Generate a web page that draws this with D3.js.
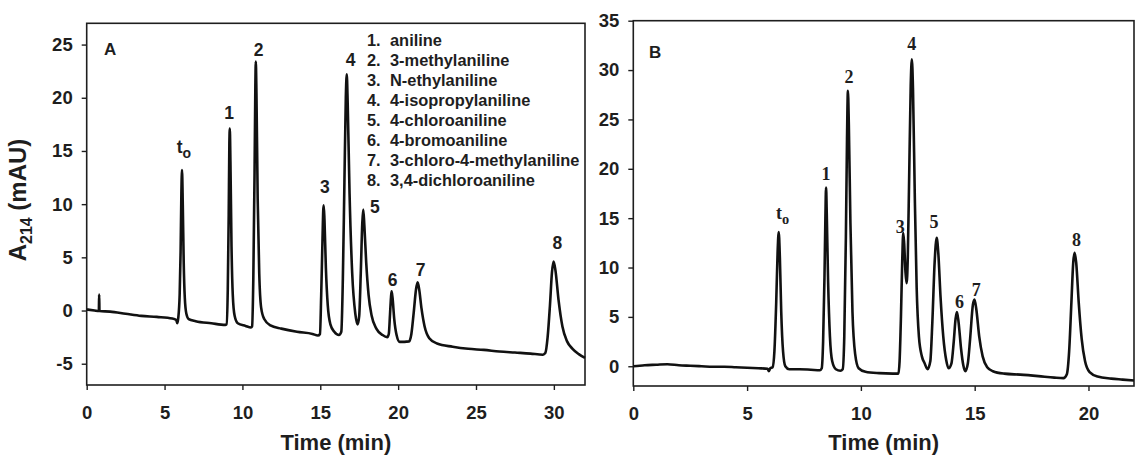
<!DOCTYPE html>
<html>
<head>
<meta charset="utf-8">
<script src="https://cdn.jsdelivr.net/npm/d3@7"></script>
<style>
  html, body { margin: 0; padding: 0; background: #ffffff; }
  svg { display: block; }
  .tick text { font-family: "Liberation Sans", Arial, sans-serif; font-weight: bold; font-size: 18.5px; fill: #1e1e1e; }
  .tick line { stroke: #1e1e1e; stroke-width: 1.4; }
  .domain { display: none; }
</style>
</head>
<body>
<svg id="chart" width="1135" height="464"></svg>
<script>
// Electropherogram A: time (min) and absorbance at 214 nm (mAU)
const traceA_time = [
  0, 0.5, 0.78, 0.8, 0.82, 1.5, 2.5, 3.5, 4.5, 5.5, 5.75, 5.82,
  5.88, 5.97, 6.03, 6.08, 6.12, 6.17, 6.23, 6.3, 6.4, 6.55, 7.0, 8.0, 8.9,
  8.98, 9.06, 9.12, 9.16, 9.19, 9.23, 9.3, 9.38, 9.5, 9.7, 10.2, 10.55,
  10.62, 10.7, 10.78, 10.83, 10.86, 10.9, 10.98, 11.08, 11.2, 11.4, 11.8, 12.5, 13.5, 14.5, 14.85,
  14.98, 15.06, 15.14, 15.19, 15.22, 15.27, 15.36, 15.48, 15.65, 15.9, 16.2,
  16.35, 16.45, 16.55, 16.64, 16.7, 16.76, 16.88, 17.05, 17.25, 17.4,
  17.5, 17.6, 17.7, 17.76, 17.83, 17.95, 18.1, 18.3, 18.6, 19.0, 19.3,
  19.4, 19.48, 19.54, 19.58, 19.64, 19.75, 19.9, 20.1,
  20.7, 20.85, 21.0, 21.15, 21.25, 21.35, 21.5, 21.7, 22.0, 22.5, 23.5, 24.5, 25.5, 26.5, 27.5, 28.5, 29.3,
  29.45, 29.6, 29.75, 29.88, 29.98, 30.1, 30.3, 30.55, 30.85, 31.2, 31.6, 32.0
];
const traceA_mAU = [
  0.1, 0.0, -0.05, 1.5, -0.05, -0.1, -0.3, -0.5, -0.6, -0.75, -0.9, -1.2,
  -0.7, 1.5, 5.5, 11.0, 13.2, 10.0, 4.5, 1.2, -0.3, -0.8, -1.0, -1.2, -1.35,
  -1.3, 2.0, 9.0, 15.5, 17.1, 14.0, 6.0, 1.5, -0.5, -1.2, -1.45, -1.6,
  -1.5, 3.0, 13.0, 21.0, 23.4, 20.5, 10.5, 3.5, 0.3, -0.8, -1.4, -1.7, -2.0, -2.2, -2.35,
  -2.2, 1.5, 6.5, 9.4, 9.9, 8.5, 4.0, 0.5, -1.3, -2.0, -2.3,
  -2.0, 3.0, 12.0, 20.0, 22.2, 19.5, 11.0, 3.5, -0.3, -1.3,
  -0.5, 3.5, 8.3, 9.5, 8.0, 4.5, 1.5, -0.5, -1.7, -2.3, -2.5,
  -2.2, -0.3, 1.2, 1.8, 1.2, -0.8, -2.3, -2.95,
  -2.9, -2.2, -0.2, 2.0, 2.65, 2.0, 0.2, -1.5, -2.6, -3.1, -3.4, -3.6, -3.7, -3.85, -3.95, -4.05, -4.15,
  -4.0, -2.5, 0.5, 3.6, 4.6, 3.8, 1.0, -1.5, -2.9, -3.6, -4.1, -4.45
];

// Electropherogram B
const traceB_time = [
  0, 0.5, 1.0, 1.5, 2.0, 2.5, 3.0, 3.5, 4.0, 4.5, 5.0, 5.5, 5.9, 5.95, 6.02,
  6.12, 6.2, 6.28, 6.34, 6.39, 6.44, 6.5, 6.58, 6.68, 6.85, 7.3, 7.8, 8.2,
  8.28, 8.34, 8.4, 8.44, 8.47, 8.5, 8.56, 8.64, 8.74, 8.9, 9.1,
  9.2, 9.27, 9.34, 9.39, 9.43, 9.47, 9.54, 9.63, 9.75, 9.9, 10.2, 10.8, 11.4, 11.65,
  11.7, 11.76, 11.82, 11.86, 11.9, 11.96, 12.01, 12.06, 12.12, 12.19, 12.24, 12.29, 12.37, 12.45, 12.55, 12.68, 12.8, 12.93,
  13.05, 13.14, 13.24, 13.33, 13.4, 13.5, 13.62, 13.75, 13.85,
  13.98, 14.08, 14.16, 14.22, 14.29, 14.4, 14.5, 14.59,
  14.7, 14.8, 14.92, 14.99, 15.07, 15.2, 15.35, 15.55, 15.8, 16.3, 17.0, 17.8, 18.5, 18.9,
  19.05, 19.15, 19.25, 19.33, 19.39, 19.46, 19.57, 19.7, 19.85, 20.05, 20.4, 21.0, 21.5, 22.0
];
const traceB_mAU = [
  0.0, 0.1, 0.15, 0.2, 0.1, 0.05, 0.0, -0.05, -0.05, -0.1, -0.15, -0.2, -0.25, -0.5, -0.2,
  -0.1, 1.5, 6.5, 11.5, 13.6, 11.0, 5.5, 1.5, 0.0, -0.3, -0.3, -0.35, -0.4,
  -0.2, 2.5, 9.0, 15.0, 18.1, 15.5, 8.5, 3.0, 0.5, -0.3, -0.45,
  -0.3, 3.0, 13.0, 23.0, 27.9, 24.5, 14.5, 5.5, 1.2, -0.2, -0.55, -0.7, -0.75, -0.75,
  0.5, 5.0, 11.0, 13.5, 12.5, 9.5, 8.4, 11.0, 19.0, 28.5, 31.1, 28.0, 17.0, 8.0, 3.0, 1.0, 0.3, -0.3,
  0.5, 4.5, 10.5, 13.0, 11.5, 7.0, 3.0, 0.6, -0.2,
  0.3, 2.5, 4.8, 5.5, 4.5, 1.8, 0.1, -0.5,
  0.3, 2.8, 6.2, 6.75, 5.8, 3.0, 1.0, -0.1, -0.5, -0.75, -0.85, -1.0, -1.15, -1.2,
  -0.8, 1.5, 6.5, 10.5, 11.5, 10.5, 6.5, 2.8, 0.5, -0.6, -1.05, -1.25, -1.35, -1.45
];

// Peak labels: text, time (min), height (mAU) where the label sits
const peakLabelsA = ["t", "1", "2", "3", "4", "5", "6", "7", "8"];
const peakLabelA_time = [6.12, 9.14, 11.04, 15.29, 16.95, 18.5, 19.65, 21.45, 30.23];
const peakLabelA_mAU = [15.4, 18.55, 24.5, 11.6, 23.6, 9.8, 2.9, 3.8, 6.4];

const peakLabelsB = ["t", "1", "2", "3", "4", "5", "6", "7", "8"];
const peakLabelB_time = [6.51, 8.47, 9.48, 11.73, 12.24, 13.21, 14.33, 15.07, 19.47];
const peakLabelB_mAU = [15.56, 19.5, 29.3, 14.2, 32.7, 14.7, 6.6, 7.8, 12.8];

// Analytes, in migration order
const compounds = [
  "aniline", "3-methylaniline", "N-ethylaniline", "4-isopropylaniline",
  "4-chloroaniline", "4-bromoaniline", "3-chloro-4-methylaniline", "3,4-dichloroaniline"
];

// Axis extents and ticks
const xDomainA = [0, 32], yDomainA = [-7, 27];
const xTicksA = [0, 5, 10, 15, 20, 25, 30], yTicksA = [-5, 0, 5, 10, 15, 20, 25];
const xDomainB = [0, 22], yDomainB = [-2, 35];
const xTicksB = [0, 5, 10, 15, 20], yTicksB = [0, 5, 10, 15, 20, 25, 30, 35];

const svg = d3.select("#chart");
const ink = "#1e1e1e";
const plain = d => String(d);   // hyphen-minus for negatives

function drawPanel(cfg) {
  const x = d3.scaleLinear().domain(cfg.xDomain).range([cfg.left, cfg.right]);
  const y = d3.scaleLinear().domain(cfg.yDomain).range([cfg.bottom, cfg.top]);
  const g = svg.append("g");

  g.append("g")
    .attr("transform", `translate(0,${cfg.bottom})`)
    .call(d3.axisBottom(x).tickValues(cfg.xTicks).tickFormat(plain).tickSize(5).tickSizeOuter(0).tickPadding(cfg.xPad))
    .call(a => a.selectAll(".tick text").attr("dy", "0.71em"));

  g.append("g")
    .attr("transform", `translate(${cfg.left},0)`)
    .call(d3.axisLeft(y).tickValues(cfg.yTicks).tickFormat(plain).tickSize(5).tickSizeOuter(0).tickPadding(cfg.yPad));

  // frame
  g.append("rect")
    .attr("x", cfg.left).attr("y", cfg.top)
    .attr("width", cfg.right - cfg.left).attr("height", cfg.bottom - cfg.top)
    .attr("fill", "none").attr("stroke", ink).attr("stroke-width", 1.6);

  // trace
  const pts = cfg.time.map((t, i) => [t, cfg.mAU[i]]);
  const line = d3.line().x(d => x(d[0])).y(d => y(d[1])).curve(d3.curveMonotoneX);
  g.append("path")
    .datum(pts)
    .attr("d", line)
    .attr("fill", "none")
    .attr("stroke", "#111")
    .attr("stroke-width", 2.6)
    .attr("stroke-linejoin", "round");

  // peak labels
  cfg.labels.forEach((lab, i) => {
    const t = g.append("text")
      .attr("x", x(cfg.labelTime[i]))
      .attr("y", y(cfg.labelMAU[i]))
      .attr("text-anchor", "middle")
      .attr("dy", "0.36em")
      .attr("font-family", cfg.labelFont)
      .attr("font-weight", "bold")
      .attr("font-size", cfg.labelSize)
      .attr("fill", ink);
    if (lab === "t") {
      t.attr("text-anchor", "start").attr("dx", "-0.3em");
      t.append("tspan").text("t");
      t.append("tspan").attr("dy", "0.35em").attr("font-size", cfg.labelSize * 0.8).text("o");
    } else {
      t.text(lab);
    }
  });

  // panel letter
  g.append("text")
    .attr("x", cfg.letterX).attr("y", cfg.letterY)
    .attr("font-family", "Liberation Sans, Arial, sans-serif")
    .attr("font-weight", "bold").attr("font-size", 17)
    .attr("fill", ink)
    .text(cfg.letter);

  // x axis title
  g.append("text")
    .attr("x", (cfg.left + cfg.right) / 2).attr("y", 450)
    .attr("text-anchor", "middle")
    .attr("font-family", "Liberation Sans, Arial, sans-serif")
    .attr("font-weight", "bold").attr("font-size", 22)
    .attr("fill", ink)
    .text("Time (min)");

  return { x, y, g };
}

drawPanel({
  left: 86.7, right: 585, top: 23.3, bottom: 385,
  xDomain: xDomainA, yDomain: yDomainA, xTicks: xTicksA, yTicks: yTicksA,
  xPad: 16, yPad: 9,
  time: traceA_time, mAU: traceA_mAU,
  labels: peakLabelsA, labelTime: peakLabelA_time, labelMAU: peakLabelA_mAU,
  labelFont: "Liberation Sans, Arial, sans-serif", labelSize: 17.5,
  letter: "A", letterX: 104, letterY: 55
});

drawPanel({
  left: 633.3, right: 1134, top: 20.7, bottom: 386,
  xDomain: xDomainB, yDomain: yDomainB, xTicks: xTicksB, yTicks: yTicksB,
  xPad: 16, yPad: 9,
  time: traceB_time, mAU: traceB_mAU,
  labels: peakLabelsB, labelTime: peakLabelB_time, labelMAU: peakLabelB_mAU,
  labelFont: "Liberation Serif, 'Times New Roman', serif", labelSize: 18,
  letter: "B", letterX: 649, letterY: 58
});

// legend of analytes inside panel A
const legend = svg.append("g")
  .attr("font-family", "Liberation Sans, Arial, sans-serif")
  .attr("font-weight", "bold").attr("font-size", 16.4).attr("fill", ink);
compounds.forEach((name, i) => {
  legend.append("text").attr("x", 367).attr("y", 46 + i * 20).text(`${i + 1}.`);
  legend.append("text").attr("x", 390).attr("y", 46 + i * 20).text(name);
});

// y axis title with subscript
const yt = svg.append("text")
  .attr("transform", "translate(26,200) rotate(-90)")
  .attr("text-anchor", "middle")
  .attr("font-family", "Liberation Sans, Arial, sans-serif")
  .attr("font-weight", "bold").attr("font-size", 24)
  .attr("fill", ink);
yt.append("tspan").text("A");
yt.append("tspan").attr("font-size", 16).attr("dy", 6).text("214");
yt.append("tspan").attr("dy", -6).text(" (mAU)");
</script>
</body>
</html>
